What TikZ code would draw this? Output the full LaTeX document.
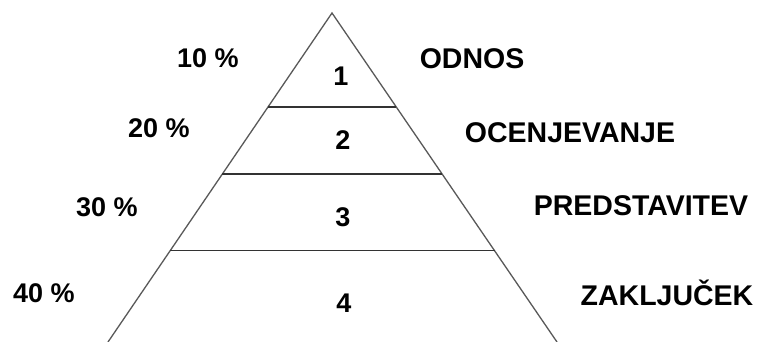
\documentclass[tikz,border=0pt]{standalone}
\usepackage{fontspec}
\setmainfont{Liberation Sans}
\usetikzlibrary{calc}
\begin{document}
\begin{tikzpicture}[x=1pt,y=-1pt,
  word/.style={font=\bfseries\fontsize{28.5}{30}\selectfont, inner sep=0pt, text height=20.4pt, text depth=0pt, anchor=center},
  pct/.style={font=\bfseries\fontsize{27}{30}\selectfont, inner sep=0pt, text height=19.3pt, text depth=0pt, anchor=center},
  side/.style={line width=1.3pt, draw=black!65},
  tier/.style={line width=1.4pt, draw=black!80}]
\useasboundingbox[fill=white] (0,0) rectangle (760,342);
\coordinate (apex) at (332,13);
\coordinate (bl) at (108,342);
\coordinate (br) at (557,342);
\draw[side] (bl) -- (apex) -- (br);
\coordinate (l1) at ($(apex)!0.2857!(bl)$);
\coordinate (r1) at ($(apex)!0.2857!(br)$);
\coordinate (l2) at ($(apex)!0.4894!(bl)$);
\coordinate (r2) at ($(apex)!0.4894!(br)$);
\coordinate (l3) at ($(apex)!0.7225!(bl)$);
\coordinate (r3) at ($(apex)!0.7225!(br)$);
\draw[tier] (l1) -- (r1);
\draw[tier] (l2) -- (r2);
\draw[tier] (l3) -- (r3);
\node[pct] (n1) at (341,76) {1};
\node[pct] (n2) at (343,140) {2};
\node[pct] (n3) at (343,217) {3};
\node[pct] (n4) at (344,303) {4};
\node[pct] (p1) at (208,58) {10 \%};
\node[pct] (p2) at (159,128) {20 \%};
\node[pct] (p3) at (107,207) {30 \%};
\node[pct] (p4) at (44,293) {40 \%};
\node[word] (w1) at (472,58) {ODNOS};
\node[word] (w2) at (570,132) {OCENJEVANJE};
\node[word] (w3) at (641,205) {PREDSTAVITEV};
\node[word] (w4) at (667,295) {ZAKLJUČEK};
\end{tikzpicture}
\end{document}
